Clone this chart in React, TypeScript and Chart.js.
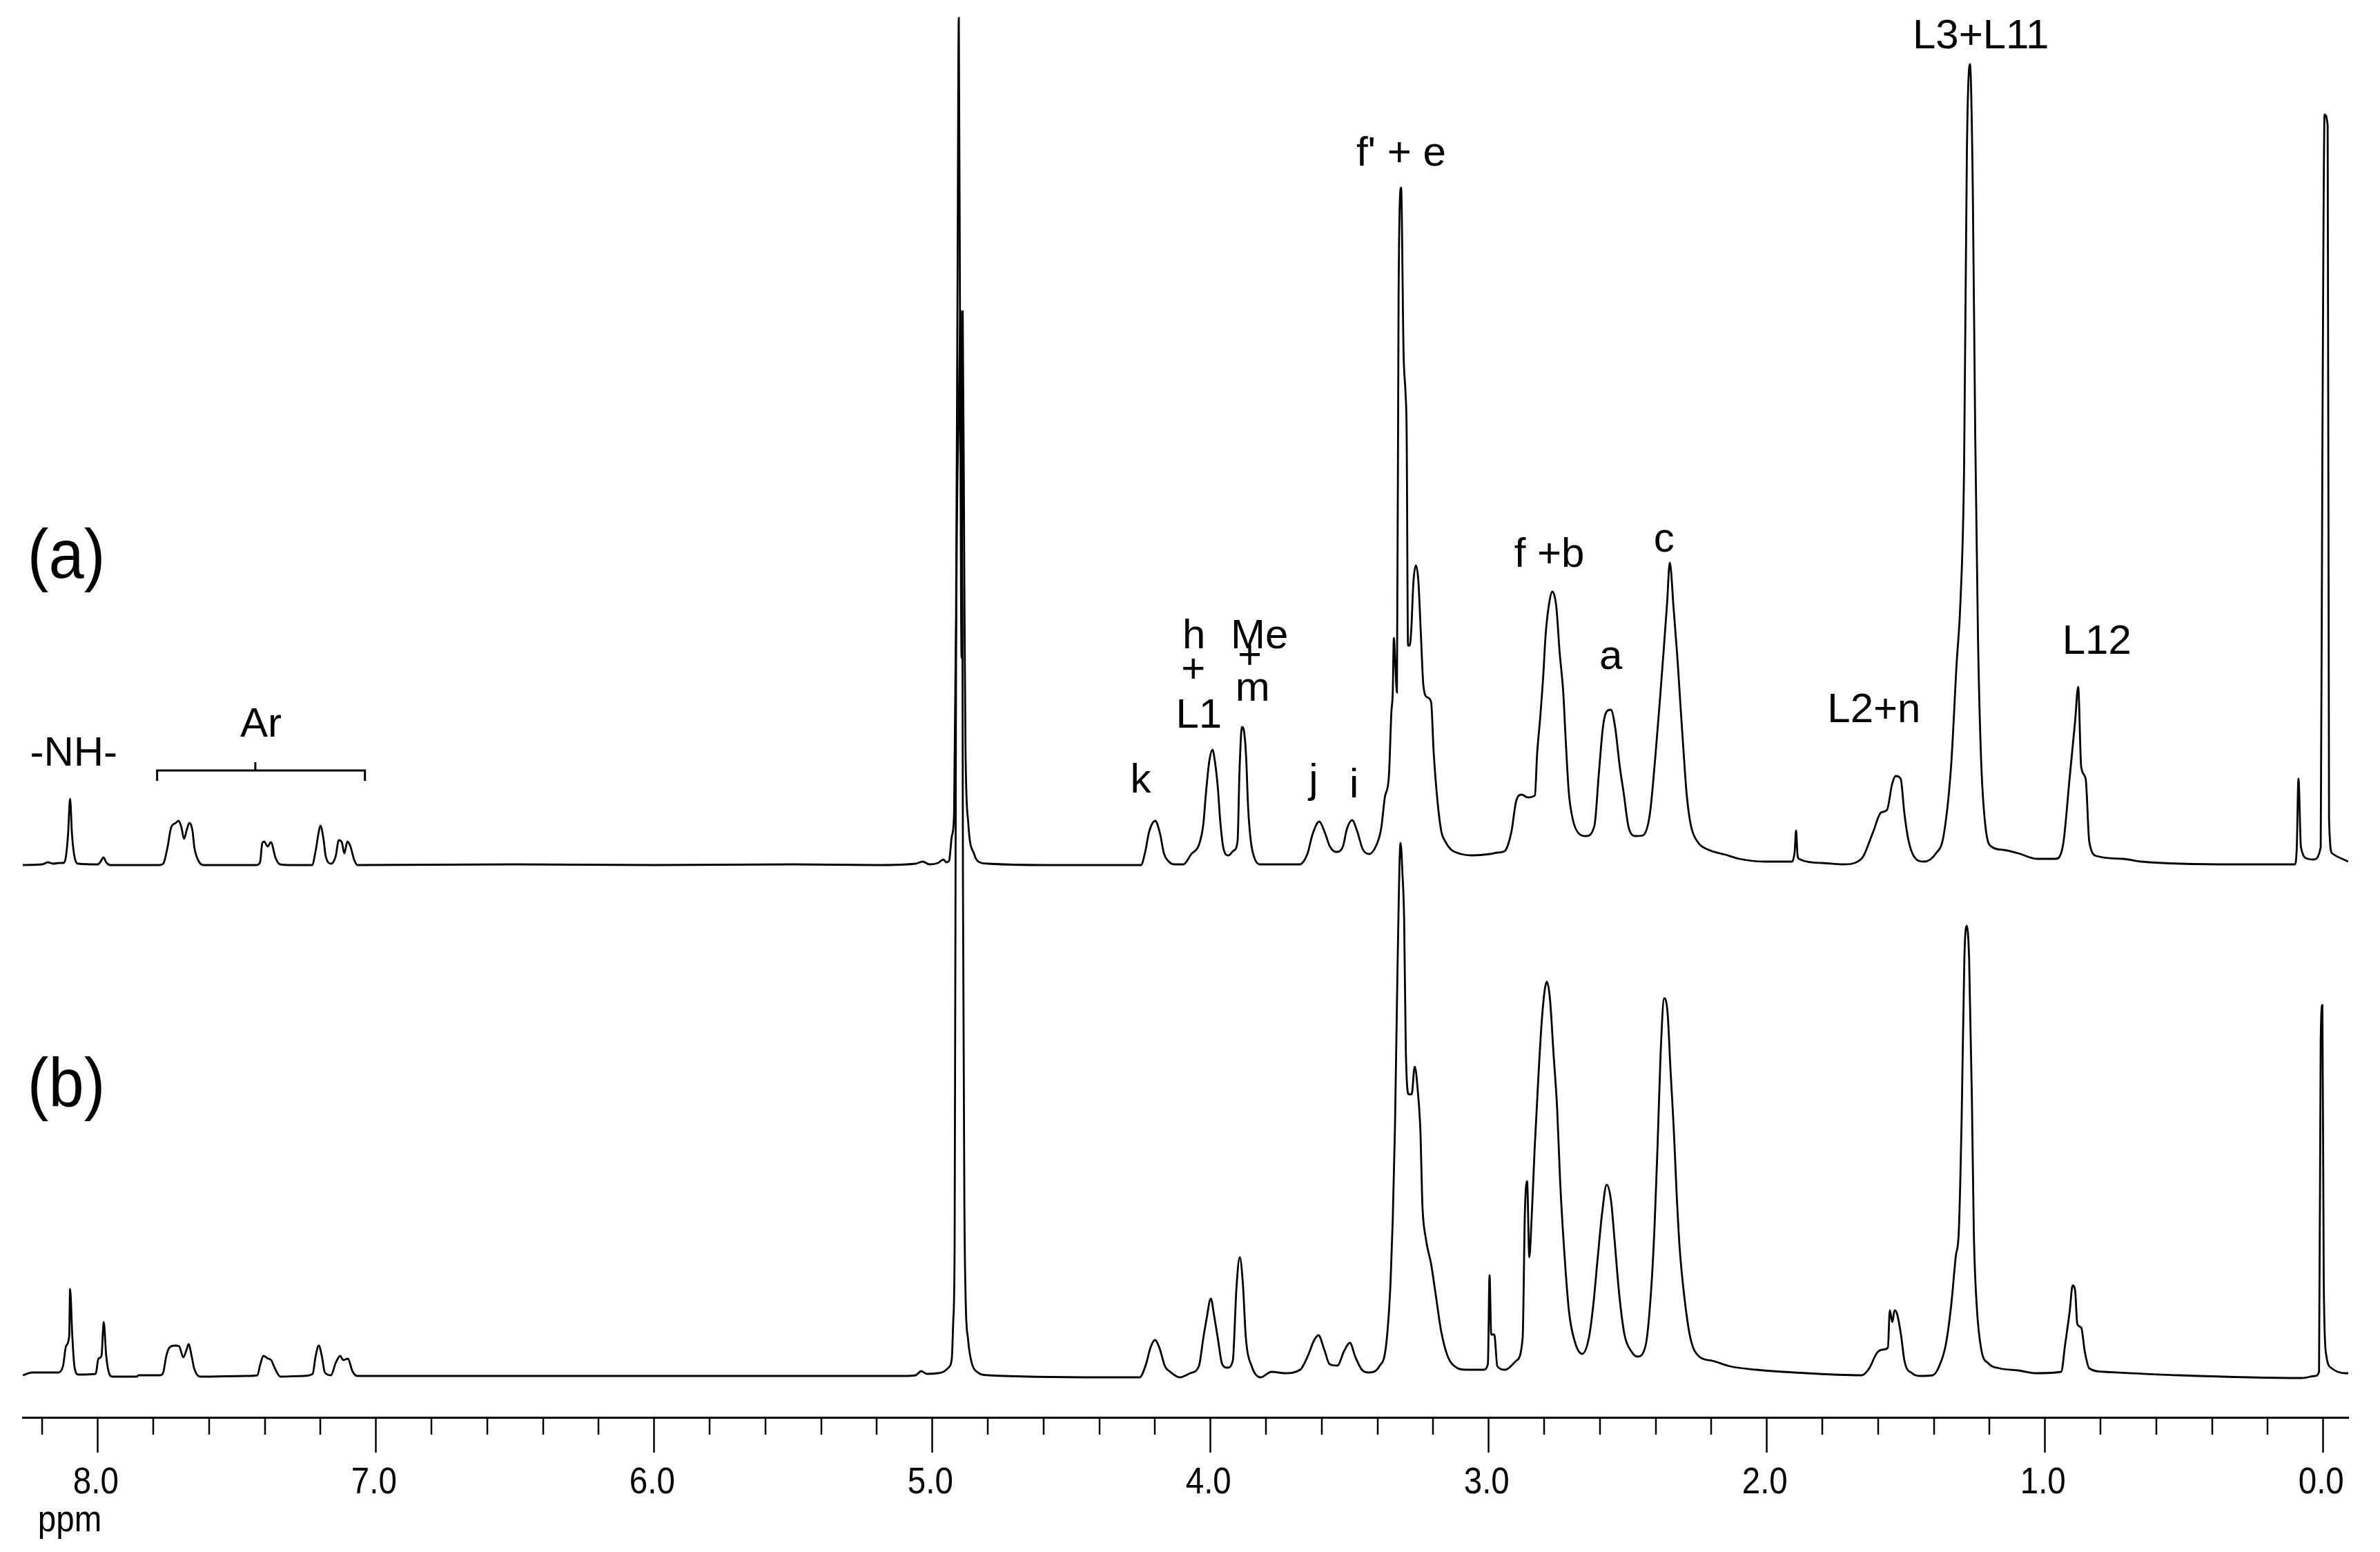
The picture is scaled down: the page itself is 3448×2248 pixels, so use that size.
import React, { useEffect, useRef } from "react";
import { Chart, registerables } from "chart.js";

Chart.register(...registerables);

// ---- Spectrum (a): chemical shift (ppm) and intensity above its own baseline ----
const A_PPM = [
  8.27, 8.2, 8.18, 8.16, 8.14, 8.125, 8.115, 8.107, 8.1, 8.093, 8.083, 8.07, 8.0, 7.99, 7.98, 7.97, 7.955,
  7.78, 7.765, 7.75, 7.737, 7.72, 7.71, 7.7, 7.69, 7.68, 7.671, 7.66, 7.653, 7.638, 7.62,
  7.43, 7.417, 7.409, 7.402, 7.39, 7.378, 7.361, 7.345, 7.3,
  7.23, 7.217, 7.206, 7.2, 7.189, 7.181, 7.161, 7.145, 7.134, 7.123, 7.114, 7.103, 7.092, 7.079, 7.067,
  6.5, 6.0, 5.5, 5.2, 5.06, 5.035, 5.01, 4.98, 4.96, 4.95, 4.94, 4.93, 4.922, 4.915, 4.91, 4.905, 4.9,
  4.895, 4.891, 4.885, 4.881, 4.871, 4.85, 4.83, 4.8, 4.6, 4.38, 4.25,
  4.235, 4.221, 4.199, 4.183, 4.167, 4.15, 4.131, 4.098,
  4.069, 4.041, 4.026, 4.017, 4.005, 3.993, 3.984, 3.974, 3.965, 3.953, 3.936, 3.917, 3.903,
  3.896, 3.887, 3.879, 3.872, 3.865, 3.855, 3.841, 3.822, 3.68,
  3.652, 3.633, 3.609, 3.59, 3.571, 3.548, 3.524, 3.51, 3.491, 3.472, 3.453, 3.43,
  3.406, 3.387, 3.373, 3.359, 3.35, 3.345, 3.341, 3.336, 3.33, 3.324, 3.315, 3.306, 3.299, 3.295,
  3.29, 3.284, 3.278, 3.271, 3.262, 3.253, 3.244, 3.235, 3.221, 3.207, 3.198, 3.184, 3.17, 3.156,
  3.137, 3.099, 3.061, 2.995, 2.97, 2.943, 2.93, 2.918, 2.901, 2.881, 2.86, 2.834,
  2.826, 2.815, 2.804, 2.796, 2.786, 2.771, 2.757, 2.745, 2.732, 2.724, 2.712, 2.697, 2.679,
  2.65, 2.62, 2.604, 2.589, 2.575, 2.561, 2.546, 2.529, 2.515, 2.496, 2.471, 2.446,
  2.421, 2.401, 2.384, 2.372, 2.359, 2.349, 2.335, 2.322, 2.31, 2.299, 2.288, 2.273, 2.248,
  2.215, 2.149, 2.099, 2.008, 1.91, 1.9, 1.895, 1.89, 1.885, 1.8, 1.727,
  1.66, 1.619, 1.59, 1.568, 1.55, 1.537, 1.519, 1.506, 1.492, 1.472, 1.435,
  1.392, 1.365, 1.338, 1.318, 1.304, 1.291, 1.281, 1.27, 1.26, 1.251, 1.241, 1.23, 1.214,
  1.19, 1.15, 1.096, 1.029, 0.962, 0.935, 0.911, 0.892, 0.881, 0.87, 0.854, 0.841, 0.814,
  0.72, 0.653, 0.317, 0.102, 0.095, 0.089, 0.08, 0.055, 0.035, 0.009, 0.003, -0.005, -0.016,
  -0.021, -0.032, -0.09,
];
const A_INT = [
  0, 1, 4, 2, 3, 3, 12, 46, 96, 44, 10, 2, 1, 5, 11, 4, 0,
  0, 2, 25, 54, 61, 64, 55, 38, 52, 61, 50, 25, 6, 0,
  0, 4, 32, 34, 27, 33, 10, 1, 0,
  0, 21, 48, 57, 38, 13, 2, 13, 36, 33, 17, 34, 27, 8, 0,
  1, 0, 1, 0, 2, 5, 1, 3, 8, 4, 6, 42, 74, 357, 800, 1227, 700,
  300, 802, 400, 171, 61, 16, 4, 2, 0, 0, 0,
  19, 48, 64, 48, 16, 5, 1, 1,
  16, 30, 59, 102, 149, 167, 149, 113, 63, 23, 14, 21, 34,
  135, 200, 192, 156, 84, 34, 9, 1, 1,
  16, 45, 63, 48, 27, 19, 27, 52, 65, 48, 23, 16,
  27, 52, 99, 128, 221, 250, 329, 293, 250, 826, 981, 740, 683, 625,
  318, 318, 344, 408, 434, 412, 336, 261, 243, 236, 164, 92, 48, 34,
  23, 16, 14, 16, 18, 20, 30, 49, 93, 102, 98, 101,
  161, 213, 274, 330, 370, 396, 374, 308, 250, 187, 105, 65, 47,
  42, 57, 133, 201, 223, 225, 201, 143, 105, 53, 42, 43,
  73, 157, 242, 306, 378, 438, 370, 302, 227, 161, 101, 57, 33,
  23, 15, 9, 5, 5, 20, 50, 15, 9, 3, 1,
  9, 47, 76, 80, 117, 129, 125, 76, 38, 13, 5,
  17, 42, 142, 291, 382, 577, 1033, 1160, 988, 623, 328, 154, 55,
  26, 22, 17, 9, 9, 30, 129, 208, 258, 142, 125, 34, 13,
  9, 5, 1, 1, 26, 125, 26, 9, 8, 26, 600, 1087, 1071,
  67, 17, 5,
];

// ---- Spectrum (b) ----
const B_PPM = [
  8.27, 8.236, 8.142, 8.125, 8.114, 8.103, 8.1, 8.092, 8.084, 8.07, 8.008, 7.998, 7.987, 7.979, 7.97,
  7.959, 7.948, 7.86, 7.854, 7.776, 7.765, 7.754, 7.743, 7.723, 7.708, 7.693, 7.682, 7.674, 7.663,
  7.654, 7.632, 7.466, 7.427, 7.416, 7.405, 7.388, 7.377, 7.366, 7.344, 7.261, 7.228, 7.217, 7.206,
  7.195, 7.184, 7.162, 7.145, 7.129, 7.118, 7.101, 7.085, 7.068,
  5.1, 5.06, 5.04, 5.02, 4.98, 4.96, 4.95, 4.94, 4.93, 4.925, 4.92, 4.915, 4.905, 4.898, 4.892, 4.89,
  4.885, 4.88, 4.872, 4.86, 4.84, 4.8, 4.38, 4.255,
  4.232, 4.216, 4.2, 4.184, 4.164, 4.145, 4.11, 4.073, 4.042, 4.026, 4.015, 3.999, 3.987, 3.974,
  3.958, 3.939, 3.92, 3.907, 3.895, 3.884, 3.873, 3.852, 3.82, 3.781, 3.733, 3.678,
  3.646, 3.631, 3.612, 3.591, 3.572, 3.544, 3.52, 3.499, 3.48, 3.456, 3.432, 3.393, 3.369,
  3.353, 3.345, 3.337, 3.328, 3.317, 3.31, 3.304, 3.298, 3.287, 3.277, 3.266, 3.255, 3.245, 3.239,
  3.226, 3.207, 3.191, 3.171, 3.147, 3.115, 3.083, 3.019, 3.003, 2.997, 2.991, 2.98, 2.969, 2.94,
  2.901, 2.878, 2.87, 2.862, 2.854, 2.846, 2.835, 2.822, 2.81, 2.799, 2.791, 2.78, 2.767, 2.754,
  2.743, 2.727, 2.711, 2.69, 2.664, 2.64, 2.624, 2.608, 2.592, 2.576, 2.56, 2.547, 2.531, 2.512,
  2.488, 2.465, 2.436, 2.417, 2.404, 2.393, 2.382, 2.369, 2.357, 2.346, 2.335, 2.325, 2.314, 2.298,
  2.275, 2.243, 2.196, 2.133, 2.038, 1.9, 1.659, 1.632, 1.605, 1.585, 1.565, 1.558, 1.549, 1.541,
  1.532, 1.518, 1.505, 1.478, 1.451, 1.404, 1.384, 1.357, 1.337, 1.321, 1.31, 1.3, 1.29, 1.282,
  1.273, 1.263, 1.256, 1.246, 1.23, 1.203, 1.163, 1.096, 1.029, 0.942, 0.928, 0.911, 0.901, 0.892,
  0.884, 0.87, 0.857, 0.841, 0.788, 0.519, 0.076, 0.029, 0.015, 0.009, 0.003, -0.002, -0.011,
  -0.031, -0.078, -0.09,
];
const B_INT = [
  0, 4, 4, 14, 43, 57, 125, 57, 12, 1, 2, 24, 28, 77, 28,
  2, -2, -2, 0, 0, 4, 28, 40, 43, 42, 26, 36, 45, 28,
  10, -2, -1, 0, 16, 28, 24, 22, 12, -2, -1, 2, 28, 43,
  28, 4, 0, 18, 28, 22, 24, 6, -1,
  -1, 0, 6, 2, 3, 5, 8, 12, 25, 78, 188, 1019, 1400, 1541, 1100, 703,
  250, 104, 53, 20, 5, 0, -3, -3,
  16, 40, 51, 40, 13, 5, -3, 3, 13, 54, 80, 111, 86, 54,
  16, 11, 21, 126, 171, 134, 54, 13, -3, 5, 3, 8,
  32, 48, 58, 37, 16, 14, 35, 47, 27, 8, 4, 13, 43,
  134, 225, 359, 586, 771, 726, 659, 471, 407, 407, 447, 412, 348, 252,
  198, 161, 118, 64, 27, 11, 8, 8, 16, 145, 59, 59, 13, 8,
  21, 54, 236, 281, 171, 225, 327, 428, 509, 557, 570, 546, 466, 386,
  279, 171, 91, 48, 31, 54, 102, 171, 236, 276, 252, 193, 118, 59,
  35, 27, 43, 118, 214, 332, 466, 546, 525, 439, 359, 268, 187, 118,
  54, 27, 21, 13, 8, 4, 0, 10, 32, 37, 40, 94, 77, 94,
  89, 59, 20, 3, -1, 0, 10, 44, 103, 172, 209, 368, 604, 651,
  604, 401, 206, 103, 39, 17, 10, 7, 3, 5, 44, 94, 130, 123,
  74, 69, 34, 10, 5, 0, -4, -1, 5, 486, 536, 133, 29,
  10, 3, 3,
];

// ---- Axis ----
const X_MIN = -0.09;
const X_MAX = 8.27;
const MAJOR_TICKS = [8, 7, 6, 5, 4, 3, 2, 1, 0];
const MINOR_TICKS = [
  8.2, 7.8, 7.6, 7.4, 7.2, 6.8, 6.6, 6.4, 6.2, 5.8, 5.6, 5.4, 5.2, 4.8, 4.6, 4.4, 4.2,
  3.8, 3.6, 3.4, 3.2, 2.8, 2.6, 2.4, 2.2, 1.8, 1.6, 1.4, 1.2, 0.8, 0.6, 0.4, 0.2,
];
const AXIS_UNIT = "ppm";

// vertical stacking of the two spectra (in y-scale units)
const OFFSET_A = 800;
const OFFSET_B = 61;
const Y_MAX = 2053;

// ---- Peak assignments: text, ppm, y value ----
const PEAK_LABELS = [
  { text: "-NH-", ppm: 8.087, v: 944 },
  { text: "Ar", ppm: 7.414, v: 986 },
  { text: "k", ppm: 4.251, v: 905 },
  { text: "h", ppm: 4.06, v: 1114 },
  { text: "+", ppm: 4.062, v: 1082, mid: true },
  { text: "L1", ppm: 4.042, v: 999 },
  { text: "Me", ppm: 3.824, v: 1114 },
  { text: "+", ppm: 3.859, v: 1102, mid: true },
  { text: "m", ppm: 3.849, v: 1038 },
  { text: "j", ppm: 3.63, v: 905 },
  { text: "i", ppm: 3.484, v: 898 },
  { text: "f' + e", ppm: 3.315, v: 1813 },
  { text: "f +b", ppm: 2.782, v: 1232 },
  { text: "a", ppm: 2.561, v: 1084 },
  { text: "c", ppm: 2.37, v: 1254 },
  { text: "L2+n", ppm: 1.615, v: 1007 },
  { text: "L3+L11", ppm: 1.231, v: 1983 },
  { text: "L12", ppm: 0.814, v: 1106 },
];
const TRACE_LABELS = [
  { text: "(a)", ppm: 8.253, v: 1216 },
  { text: "(b)", ppm: 8.253, v: 450 },
];
// Ar bracket: from, to, centre (ppm); line level and tick ends (y values)
const AR_BRACKET = { from: 7.787, to: 7.04, centre: 7.434, v: 937, ends: 922, top: 949 };

const LABEL_FONT = "60px 'Liberation Sans', Arial, sans-serif";
const TRACE_FONT = "100px 'Liberation Sans', Arial, sans-serif";
const AXIS_FONT = "54px 'Liberation Sans', Arial, sans-serif";

function drawSqueezed(ctx: any, text: string, x: number, y: number, sx: number, align: string) {
  ctx.save();
  ctx.translate(x, y);
  ctx.scale(sx, 1);
  ctx.textAlign = align;
  ctx.fillText(text, 0, 0);
  ctx.restore();
}

const overlayPlugin = {
  id: "overlay",
  afterDraw(chart: any) {
    const { ctx } = chart;
    const xs = chart.scales.x;
    const ys = chart.scales.y;
    ctx.save();
    ctx.strokeStyle = "#000";
    ctx.fillStyle = "#000";
    // minor ticks
    ctx.lineWidth = 2.5;
    const top = xs.top;
    MINOR_TICKS.forEach((t) => {
      const px = Math.round(xs.getPixelForValue(t));
      ctx.beginPath();
      ctx.moveTo(px, top);
      ctx.lineTo(px, top + 25);
      ctx.stroke();
    });
    // tick labels (narrow, as in the original bitmap font)
    ctx.font = AXIS_FONT;
    ctx.textBaseline = "alphabetic";
    xs.ticks.forEach((t: any) => {
      drawSqueezed(ctx, Number(t.value).toFixed(1), xs.getPixelForValue(t.value) - 3, top + 110, 0.88, "center");
    });
    // unit
    drawSqueezed(ctx, AXIS_UNIT, xs.getPixelForValue(8.0) - 87, top + 165, 0.88, "left");
    // peak labels
    ctx.font = LABEL_FONT;
    PEAK_LABELS.forEach((l: any) => {
      ctx.textAlign = "center";
      ctx.textBaseline = l.mid ? "middle" : "alphabetic";
      ctx.fillText(l.text, xs.getPixelForValue(l.ppm), ys.getPixelForValue(l.v));
    });
    // trace labels
    ctx.font = TRACE_FONT;
    ctx.textBaseline = "alphabetic";
    TRACE_LABELS.forEach((l) => {
      drawSqueezed(ctx, l.text, xs.getPixelForValue(l.ppm), ys.getPixelForValue(l.v), 0.92, "left");
    });
    // Ar bracket
    const b = AR_BRACKET;
    const x1 = xs.getPixelForValue(b.from);
    const x2 = xs.getPixelForValue(b.to);
    const xc = xs.getPixelForValue(b.centre);
    const yl = ys.getPixelForValue(b.v);
    ctx.lineWidth = 3;
    ctx.beginPath();
    ctx.moveTo(x1, ys.getPixelForValue(b.ends));
    ctx.lineTo(x1, yl);
    ctx.lineTo(x2, yl);
    ctx.lineTo(x2, ys.getPixelForValue(b.ends));
    ctx.moveTo(xc, yl);
    ctx.lineTo(xc, ys.getPixelForValue(b.top));
    ctx.stroke();
    ctx.restore();
  },
};

function toPoints(ppm: number[], inten: number[], offset: number) {
  return ppm.map((p, i) => ({ x: p, y: inten[i] + offset }));
}

export default function App() {
  const ref = useRef<HTMLCanvasElement | null>(null);
  useEffect(() => {
    if (!ref.current) return;
    const chart = new Chart(ref.current, {
      type: "line",
      data: {
        datasets: [
          {
            label: "(a)",
            data: toPoints(A_PPM, A_INT, OFFSET_A),
            borderColor: "#000",
            borderWidth: 2.8,
            pointRadius: 0,
            fill: false,
            cubicInterpolationMode: "monotone",
          },
          {
            label: "(b)",
            data: toPoints(B_PPM, B_INT, OFFSET_B),
            borderColor: "#000",
            borderWidth: 2.8,
            pointRadius: 0,
            fill: false,
            cubicInterpolationMode: "monotone",
          },
        ],
      },
      options: {
        animation: false,
        responsive: false,
        devicePixelRatio: 1,
        layout: { padding: { left: 33, right: 46, top: 0, bottom: 0 } },
        plugins: { legend: { display: false }, tooltip: { enabled: false } },
        events: [],
        scales: {
          x: {
            type: "linear",
            reverse: true,
            min: X_MIN,
            max: X_MAX,
            border: { display: true, color: "#000", width: 3 },
            grid: {
              display: true,
              drawOnChartArea: false,
              drawTicks: true,
              tickLength: 51,
              tickWidth: 2.5,
              tickColor: "#000",
            },
            ticks: { display: false, autoSkip: false },
            afterBuildTicks: (s: any) => {
              s.ticks = MAJOR_TICKS.map((v) => ({ value: v }));
            },
            afterFit: (s: any) => {
              s.height = 195;
            },
          },
          y: { display: false, min: 0, max: Y_MAX },
        },
      } as any,
      plugins: [overlayPlugin],
    });
    return () => chart.destroy();
  }, []);
  return (
    <div style={{ position: "fixed", left: 0, top: 0, width: 3448, height: 2248, background: "#fff" }}>
      <canvas ref={ref} width={3448} height={2248} style={{ width: 3448, height: 2248 }} />
    </div>
  );
}
